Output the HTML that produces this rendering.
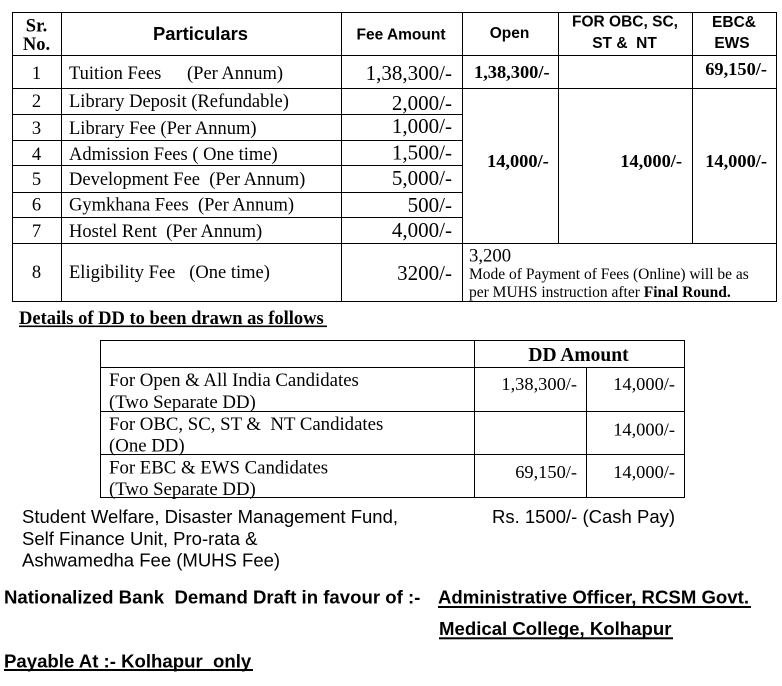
<!DOCTYPE html>
<html><head><meta charset="utf-8">
<style>
html,body{margin:0;padding:0;background:#fff;}
svg{display:block;}
.s{font-family:"Liberation Serif","Times New Roman",serif;fill:#000;white-space:pre;}
.a{font-family:"Liberation Sans",Arial,sans-serif;fill:#000;white-space:pre;}
.b{font-weight:bold;}
</style></head>
<body>
<svg width="782" height="686" viewBox="0 0 782 686" xmlns="http://www.w3.org/2000/svg">
<g fill="#000">
<!-- main table horizontals -->
<rect x="12" y="12" width="765" height="1"/>
<rect x="12" y="55" width="765" height="1"/>
<rect x="12" y="88" width="765" height="1"/>
<rect x="12" y="114" width="451" height="1"/>
<rect x="12" y="140" width="451" height="1"/>
<rect x="12" y="165" width="451" height="1"/>
<rect x="12" y="192" width="451" height="1"/>
<rect x="12" y="217" width="451" height="1"/>
<rect x="12" y="243" width="765" height="1"/>
<rect x="12" y="301" width="765" height="1"/>
<!-- main table verticals -->
<rect x="12" y="12" width="1" height="290"/>
<rect x="61" y="12" width="1" height="290"/>
<rect x="341" y="12" width="1" height="290"/>
<rect x="462" y="12" width="1" height="290"/>
<rect x="558" y="12" width="1" height="232"/>
<rect x="692" y="12" width="1" height="232"/>
<rect x="776" y="12" width="1" height="290"/>
<!-- DD table -->
<rect x="100" y="340" width="585" height="1"/>
<rect x="100" y="367" width="585" height="1"/>
<rect x="100" y="411" width="585" height="1"/>
<rect x="100" y="454" width="585" height="1"/>
<rect x="100" y="497" width="585" height="1"/>
<rect x="100" y="340" width="1" height="158"/>
<rect x="474" y="340" width="1" height="158"/>
<rect x="586" y="367" width="1" height="131"/>
<rect x="684" y="340" width="1" height="158"/>
<!-- underlines -->
<rect x="19" y="325.5" width="308" height="1.6"/>
<rect x="438" y="606" width="313" height="2"/>
<rect x="439" y="637.3" width="234" height="2"/>
<rect x="4" y="669" width="249" height="2"/>
</g>

<!-- header -->
<text class="s b" font-size="18.5" x="36.5" y="31.5" text-anchor="middle">Sr.</text>
<text class="s b" font-size="18.5" x="36.5" y="50" text-anchor="middle">No.</text>
<text class="a b" font-size="18.4" x="200.5" y="40" text-anchor="middle">Particulars</text>
<text class="a b" font-size="15.5" x="401" y="39.5" text-anchor="middle">Fee Amount</text>
<text class="a b" font-size="15.5" x="509.5" y="38" text-anchor="middle">Open</text>
<text class="a b" font-size="15.5" x="625" y="26.5" text-anchor="middle">FOR OBC, SC,</text>
<text class="a b" font-size="15.5" x="624.5" y="48" text-anchor="middle">ST &amp;  NT</text>
<text class="a b" font-size="15.5" x="734" y="27" text-anchor="middle">EBC&amp;</text>
<text class="a b" font-size="15.5" x="732" y="48" text-anchor="middle">EWS</text>

<!-- serial numbers -->
<g font-size="18.5" text-anchor="middle">
<text class="s" x="36.5" y="79">1</text>
<text class="s" x="36.5" y="107">2</text>
<text class="s" x="36.5" y="134">3</text>
<text class="s" x="36.5" y="160">4</text>
<text class="s" x="36.5" y="185">5</text>
<text class="s" x="36.5" y="210.5">6</text>
<text class="s" x="36.5" y="237">7</text>
<text class="s" x="36.5" y="278">8</text>
</g>

<!-- particulars -->
<g font-size="18.5">
<text class="s" x="69" y="79">Tuition Fees</text>
<text class="s" x="187" y="79">(Per Annum)</text>
<text class="s" x="69" y="107">Library Deposit (Refundable)</text>
<text class="s" x="69" y="134">Library Fee (Per Annum)</text>
<text class="s" x="69" y="160">Admission Fees ( One time)</text>
<text class="s" x="69" y="185">Development Fee  (Per Annum)</text>
<text class="s" x="69" y="210.5">Gymkhana Fees  (Per Annum)</text>
<text class="s" x="69" y="237">Hostel Rent  (Per Annum)</text>
<text class="s" x="69" y="278">Eligibility Fee   (One time)</text>
</g>

<!-- fee amounts -->
<g font-size="21" text-anchor="end">
<text class="s" x="452" y="80">1,38,300/-</text>
<text class="s" x="452" y="110">2,000/-</text>
<text class="s" x="452" y="133">1,000/-</text>
<text class="s" x="452" y="159.5">1,500/-</text>
<text class="s" x="452" y="185">5,000/-</text>
<text class="s" x="452" y="212">500/-</text>
<text class="s" x="452" y="237">4,000/-</text>
<text class="s" x="452" y="280">3200/-</text>
</g>

<!-- bold values -->
<text class="s b" font-size="18.4" x="474" y="78">1,38,300/-</text>
<text class="s b" font-size="18.4" x="767" y="75" text-anchor="end">69,150/-</text>
<text class="s b" font-size="18.4" x="487" y="167">14,000/-</text>
<text class="s b" font-size="18.4" x="682" y="167" text-anchor="end">14,000/-</text>
<text class="s b" font-size="18.4" x="767" y="167" text-anchor="end">14,000/-</text>

<!-- row 8 note -->
<text class="s" font-size="18.7" x="469" y="261.5">3,200</text>
<text class="s" font-size="15.5" x="469" y="279">Mode of Payment of Fees (Online) will be as</text>
<text class="s" font-size="15.5" x="469" y="297">per MUHS instruction after <tspan font-weight="bold">Final Round.</tspan></text>

<!-- details heading -->
<text class="s b" font-size="18.5" x="19" y="324">Details of DD to been drawn as follows</text>

<!-- DD table -->
<text class="s b" font-size="19.5" x="578.5" y="361" text-anchor="middle">DD Amount</text>
<g font-size="18.8">
<text class="s" x="109" y="386">For Open &amp; All India Candidates</text>
<text class="s" x="109" y="408">(Two Separate DD)</text>
<text class="s" x="109" y="430">For OBC, SC, ST &amp;  NT Candidates</text>
<text class="s" x="109" y="451.5">(One DD)</text>
<text class="s" x="109" y="473.5">For EBC &amp; EWS Candidates</text>
<text class="s" x="109" y="495">(Two Separate DD)</text>
</g>
<g font-size="18.4" text-anchor="end">
<text class="s" x="577" y="390">1,38,300/-</text>
<text class="s" x="675" y="390">14,000/-</text>
<text class="s" x="675" y="435.5">14,000/-</text>
<text class="s" x="577" y="478">69,150/-</text>
<text class="s" x="675" y="478">14,000/-</text>
</g>

<!-- bottom section -->
<g font-size="18.5">
<text class="a" x="22" y="523">Student Welfare, Disaster Management Fund,</text>
<text class="a" x="22" y="545">Self Finance Unit, Pro-rata &amp;</text>
<text class="a" x="22" y="566.5">Ashwamedha Fee (MUHS Fee)</text>
<text class="a" x="492" y="523">Rs. 1500/- (Cash Pay)</text>
</g>
<g font-size="18.6">
<text class="a b" x="4" y="603.5">Nationalized Bank  Demand Draft in favour of :-</text>
<text class="a b" x="438" y="603.5">Administrative Officer, RCSM Govt.</text>
<text class="a b" x="439" y="635">Medical College, Kolhapur</text>
<text class="a b" x="4" y="667.5">Payable At :- Kolhapur  only</text>
</g>
</svg>
</body></html>
